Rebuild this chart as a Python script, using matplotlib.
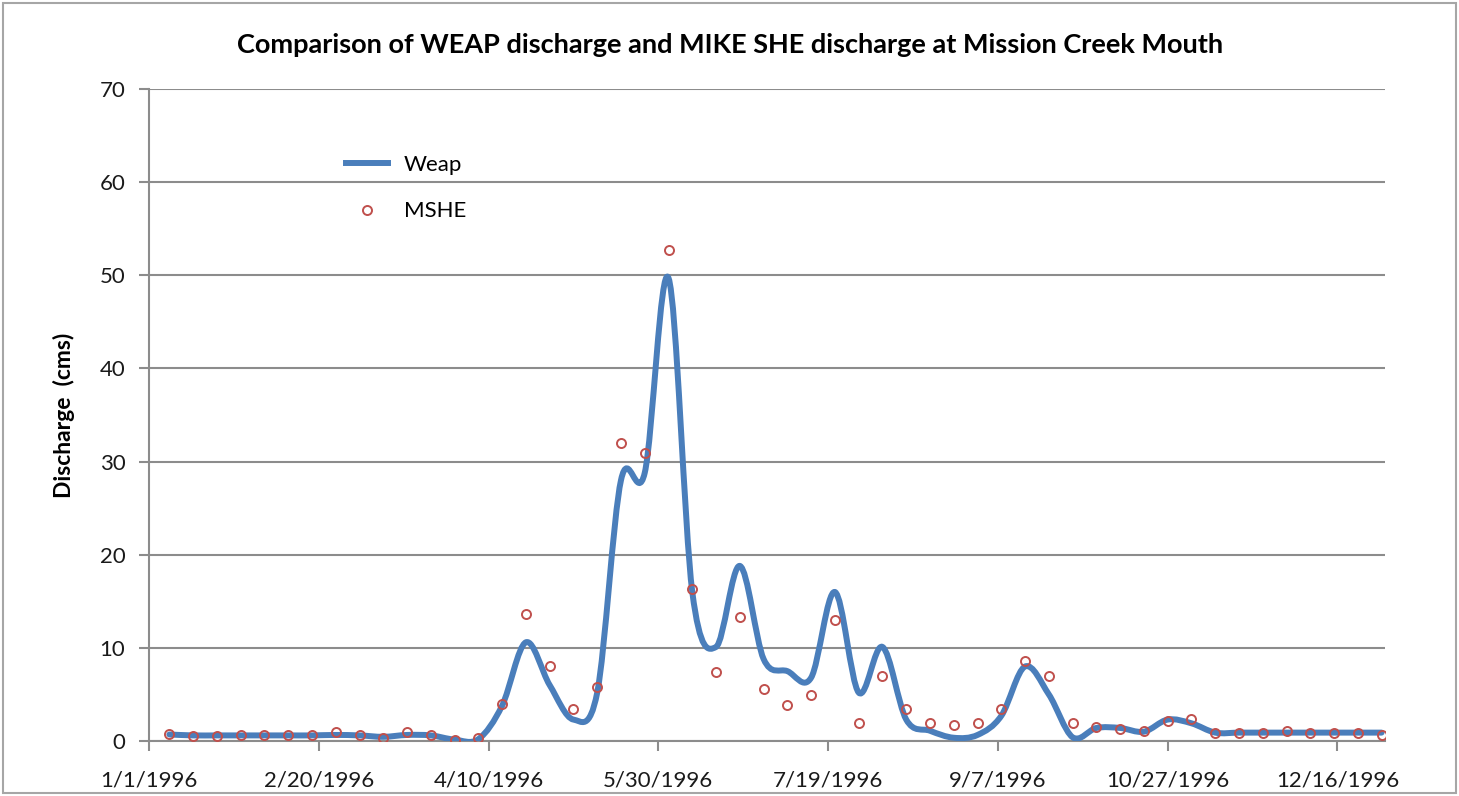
import numpy as np
import pandas as pd
import matplotlib
matplotlib.use("Agg")
import matplotlib.pyplot as plt
import matplotlib.dates as mdates
from matplotlib.path import Path
from matplotlib.patches import PathPatch, Rectangle
from matplotlib.lines import Line2D

# ---------------- data ----------------
start_date = "1996-01-07"
weap = [0.7, 0.6, 0.6, 0.6, 0.6, 0.6, 0.6, 0.65, 0.6, 0.45,
        0.65, 0.6, 0.15, 0.2, 3.8, 10.6, 6.0, 2.3, 5.2, 28.0,
        28.8, 49.7, 16.0, 10.1, 18.8, 8.8, 7.5, 6.8, 16.0, 5.2,
        10.1, 2.3, 1.1, 0.35, 0.65, 2.7, 8.0, 5.0, 0.4, 1.4,
        1.4, 1.0, 2.3, 1.9, 0.9, 0.9, 0.9, 0.9, 0.9, 0.9,
        0.9, 0.9]
mshe = [0.8, 0.57, 0.57, 0.6, 0.6, 0.6, 0.6, 1.0, 0.6, 0.35,
        1.0, 0.6, 0.1, 0.35, 4.0, 13.6, 8.0, 3.44, 5.83, 32.0,
        30.9, 52.75, 16.3, 7.36, 13.26, 5.6, 3.9, 4.96, 13.0, 1.96,
        6.96, 3.46, 1.96, 1.7, 1.96, 3.46, 8.57, 6.96, 1.96, 1.5,
        1.3, 1.07, 2.1, 2.4, 0.9, 0.9, 0.9, 1.07, 0.9, 0.9,
        0.9, 0.64]
tick_dates = ["1996-01-01", "1996-02-20", "1996-04-10", "1996-05-30",
              "1996-07-19", "1996-09-07", "1996-10-27", "1996-12-16"]
tick_labels = ["1/1/1996", "2/20/1996", "4/10/1996", "5/30/1996",
               "7/19/1996", "9/7/1996", "10/27/1996", "12/16/1996"]
y_ticks = [0, 10, 20, 30, 40, 50, 60, 70]
x_limits = ["1996-01-01", "1996-12-30"]

title = "Comparison of WEAP discharge and MIKE SHE discharge at Mission Creek Mouth"
ylabel = "Discharge  (cms)"

# ---------------- style ----------------
plt.rcParams['font.family'] = ['Lato', 'DejaVu Sans']
LINE_C = "#4a7ebb"
MARK_C = "#c0504d"
GRID_C = "#8c8c8c"

fig = plt.figure(figsize=(14.59, 7.96), dpi=100)
ax = fig.add_axes([149/1459, 1-741/796, (1385-149)/1459, (741-89)/796])

dates = pd.date_range(start_date, periods=len(weap), freq="7D")
x = mdates.date2num(dates.to_pydatetime())
y = np.asarray(weap, dtype=float)

# smoothed line (Catmull-Rom rendered as cubic Bezier segments)
pts = np.column_stack([x, y])
ext = np.vstack([pts[0], pts, pts[-1]])
verts = [tuple(pts[0])]
codes = [Path.MOVETO]
for i in range(len(pts) - 1):
    p0, p1, p2, p3 = ext[i], ext[i+1], ext[i+2], ext[i+3]
    c1 = p1 + (p2 - p0) / 6.0
    c2 = p2 - (p3 - p1) / 6.0
    verts += [tuple(c1), tuple(c2), tuple(p2)]
    codes += [Path.CURVE4] * 3
patch = PathPatch(Path(verts, codes), facecolor="none", edgecolor=LINE_C,
                  lw=4.3, capstyle="round", joinstyle="round", zorder=3)
ax.add_patch(patch)

ax.plot(x, mshe, linestyle="none", marker="o", markersize=6.5,
        markerfacecolor="none", markeredgecolor=MARK_C, markeredgewidth=1.4,
        zorder=4)

ax.set_xlim(mdates.datestr2num(x_limits[0]), mdates.datestr2num(x_limits[1]))
ax.set_ylim(0, 70)
ax.set_yticks(y_ticks)
ax.set_yticklabels([str(v) for v in y_ticks])
ax.set_xticks(mdates.datestr2num(tick_dates))
ax.set_xticklabels(tick_labels)

ax.grid(axis="y", color=GRID_C, lw=1.5)
ax.set_axisbelow(True)
for s in ["top", "right"]:
    ax.spines[s].set_visible(False)
for s in ["left", "bottom"]:
    ax.spines[s].set_color(GRID_C)
    ax.spines[s].set_linewidth(1.5)
ax.tick_params(axis="both", colors=GRID_C, length=7, width=1.5,
               labelcolor="#1a1a1a", labelsize=16)
ax.tick_params(axis="x", pad=14)
ax.tick_params(axis="y", pad=10)

fig.text(730/1459, 1-45/796, title, fontsize=19.5, fontweight="bold",
         ha="center", va="center")
ax.set_ylabel(ylabel, fontsize=16.5, fontweight="bold", labelpad=18)

handles = [Line2D([], [], color=LINE_C, lw=4.3),
           Line2D([], [], linestyle="none", marker="o", markersize=6.5,
                  markerfacecolor="none", markeredgecolor=MARK_C,
                  markeredgewidth=1.4)]
ax.legend(handles, ["Weap", "MSHE"], loc="upper left",
          bbox_to_anchor=(0.143, 0.93), frameon=False, fontsize=16,
          handlelength=1.9, labelspacing=1.2, handletextpad=0.7)

fig.patches.append(Rectangle((0.002, 0.004), 0.996, 0.992, transform=fig.transFigure,
                             fill=False, edgecolor="#a6a6a6", lw=1.5))

fig.savefig("out.png", dpi=100)
